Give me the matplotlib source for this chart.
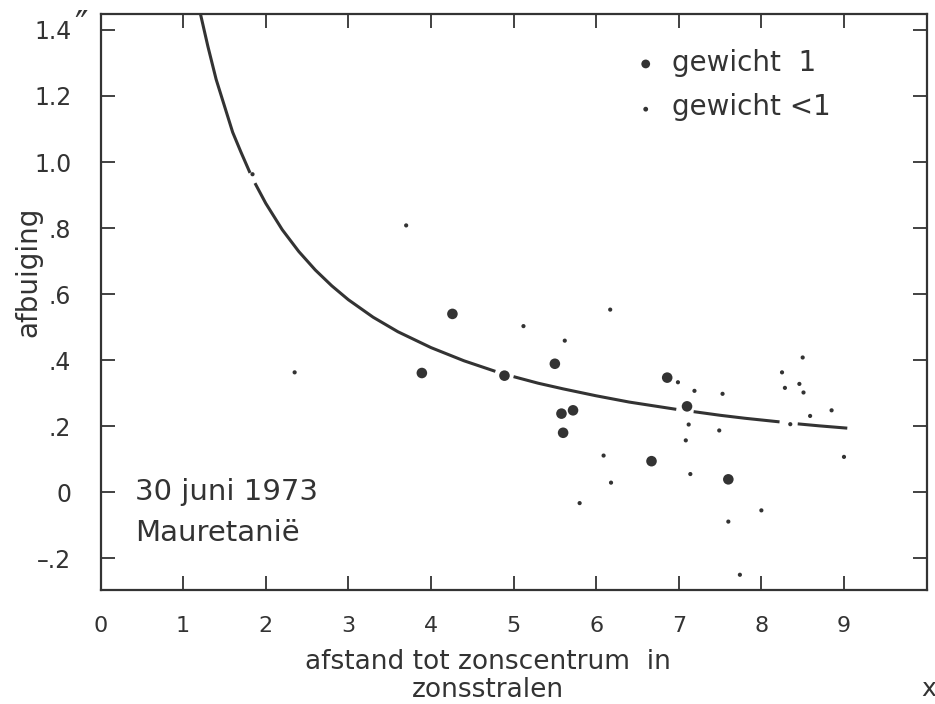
import numpy as np
import matplotlib
matplotlib.use("Agg")
import matplotlib.pyplot as plt

plt.rcParams['font.family'] = ['DejaVu Sans']

# gewicht 1 (big dots)
big_x = [3.89, 4.26, 4.89, 5.50, 5.58, 5.60, 5.72, 6.67, 6.86, 7.10, 7.60]
big_y = [0.361, 0.540, 0.353, 0.389, 0.238, 0.180, 0.248, 0.094, 0.347, 0.260, 0.039]

# gewicht <1 (small dots)
small_x = [1.84, 2.35, 3.70, 5.12, 5.62, 5.80, 6.09, 6.17, 6.18, 6.99, 7.085, 7.12,
           7.14, 7.19, 7.49, 7.53, 7.60, 7.74, 8.00, 8.25, 8.285, 8.35, 8.46, 8.50,
           8.51, 8.59, 8.85, 9.00]
small_y = [0.963, 0.363, 0.808, 0.503, 0.459, -0.033, 0.111, 0.553, 0.029, 0.333, 0.157, 0.205,
           0.055, 0.307, 0.187, 0.298, -0.089, -0.250, -0.055, 0.363, 0.316, 0.206, 0.328, 0.408,
           0.302, 0.231, 0.248, 0.107]

# curve (theory), broken into the drawn segments
curve_segments = [
    ([1.19, 1.3, 1.4, 1.5, 1.6, 1.7, 1.81],
     [1.47, 1.35, 1.25, 1.17, 1.09, 1.03, 0.967]),
    ([1.87, 2.0, 2.2, 2.4, 2.6, 2.8, 3.0, 3.3, 3.6, 4.0, 4.4, 4.78],
     [0.936, 0.875, 0.795, 0.729, 0.673, 0.625, 0.583, 0.530, 0.486, 0.438, 0.398, 0.366]),
    ([5.0, 5.3, 5.6, 6.0, 6.4, 6.97],
     [0.350, 0.330, 0.313, 0.292, 0.273, 0.251]),
    ([7.18, 7.5, 7.8, 8.22],
     [0.244, 0.233, 0.224, 0.213]),
    ([8.44, 8.7, 9.04],
     [0.207, 0.201, 0.194]),
]

xticks = [0, 1, 2, 3, 4, 5, 6, 7, 8, 9]
yticks = [-0.2, 0.0, 0.2, 0.4, 0.6, 0.8, 1.0, 1.2, 1.4]
ytick_labels = ['\u2013.2', '0', '.2', '.4', '.6', '.8', '1.0', '1.2', '1.4']

ink = '#333333'

fig = plt.figure(figsize=(9.35, 7.04), dpi=100)
ax = fig.add_axes([0.1075, 0.162, 0.8835, 0.818])

for cx, cy in curve_segments:
    ax.plot(cx, cy, color=ink, lw=2.2, solid_capstyle='butt', clip_on=True)

ax.scatter(big_x, big_y, s=58, color=ink, edgecolors='none', zorder=3)
ax.scatter(small_x, small_y, s=9, color=ink, edgecolors='none', zorder=3)

ax.set_xlim(0, 10)
ax.set_ylim(-0.296, 1.448)

ax.set_xticks(xticks)
ax.set_yticks(yticks)
ax.set_yticklabels(ytick_labels)
ax.tick_params(direction='in', length=10, width=1.3, color=ink, labelcolor=ink,
               labelsize=17, top=True, right=True)
ax.tick_params(axis='x', pad=19, labelsize=16)
ax.tick_params(axis='y', pad=21)
for sp in ax.spines.values():
    sp.set_linewidth(1.6)
    sp.set_color(ink)

# the second mark on 1.4
fig.text(74 / 935, 1 - 26 / 704, '\u2033', ha='left', va='center',
         fontsize=26, color=ink)

ax.text(0.042, 0.0, '30 juni 1973', fontsize=21, color=ink, va='center', ha='left',
        transform=ax.get_yaxis_transform())
ax.text(0.042, -0.125, 'Mauretani\u00eb', fontsize=21, color=ink, va='center', ha='left',
        transform=ax.get_yaxis_transform())

# legend
ax.scatter([6.6], [1.297], s=40, color=ink, edgecolors='none')
ax.scatter([6.6], [1.16], s=12, color=ink, edgecolors='none')
ax.text(6.92, 1.30, 'gewicht  1', fontsize=20, color=ink, va='center', ha='left')
ax.text(6.92, 1.168, 'gewicht <1', fontsize=20, color=ink, va='center', ha='left')

fig.text(0.030, 0.614, 'afbuiging', rotation=90, fontsize=20, color=ink,
         ha='center', va='center')
fig.text(0.522, 1 - 662 / 704, 'afstand tot zonscentrum  in', fontsize=19,
         color=ink, ha='center', va='center')
fig.text(0.522, 1 - 690 / 704, 'zonsstralen', fontsize=19,
         color=ink, ha='center', va='center')
fig.text(0.985, 0.022, 'x', fontsize=18, color=ink, ha='left', va='center')

fig.savefig('out.png', dpi=100)
